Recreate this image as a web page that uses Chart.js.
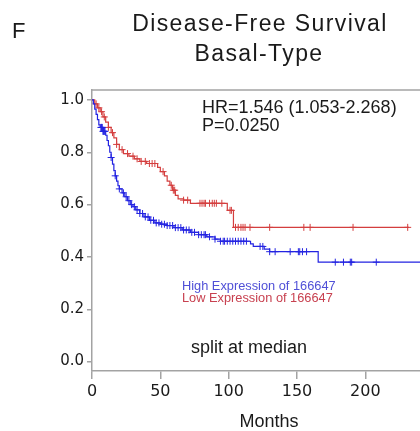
<!DOCTYPE html>
<html>
<head>
<meta charset="utf-8">
<script src="https://cdn.jsdelivr.net/npm/chart.js@4/dist/chart.umd.min.js"></script>
<style>
  html, body { margin: 0; padding: 0; background: #fff; }
  canvas { display: block; }
</style>
</head>
<body>
<canvas id="km" width="420" height="431"></canvas>
<script>
// Kaplan-Meier steps (months, survival)
const highTimes = [0, 1, 2, 3, 4, 5, 6, 8, 10, 11, 12, 13, 14, 15, 16, 17, 18, 19, 20, 22, 24, 26, 28, 30, 32, 35, 38, 42, 46, 50, 55, 60, 66, 72, 78, 84, 90, 94, 116, 118, 126, 130, 165.5];
const highSurv  = [1.0, 0.985, 0.965, 0.945, 0.925, 0.905, 0.895, 0.88, 0.865, 0.845, 0.825, 0.80, 0.78, 0.755, 0.73, 0.71, 0.69, 0.672, 0.66, 0.645, 0.63, 0.615, 0.60, 0.592, 0.58, 0.566, 0.553, 0.54, 0.53, 0.525, 0.52, 0.512, 0.503, 0.494, 0.485, 0.477, 0.468, 0.46, 0.45, 0.44, 0.43, 0.42, 0.38];
const highCensor = [6.5, 7, 7.5, 8, 8.5, 9, 9.5, 14, 17, 20, 23, 25, 27, 29, 31, 33, 35, 37, 39, 41, 43, 45, 47, 49, 51, 53, 55, 57, 59, 61, 63, 65, 67, 69, 71, 73, 75, 78, 80, 82, 83, 86, 90, 94, 96, 97, 99, 101, 103, 105, 107, 109, 111, 113, 123, 125, 130, 134, 145, 151, 152, 154, 157, 178, 184, 189, 190, 208];

const lowTimes = [0, 2, 4, 6, 8, 10, 12, 14, 16, 18, 20, 23, 27, 31, 35, 40, 48, 50, 53, 55, 57, 59, 61, 63, 67, 72, 99, 103.5];
const lowSurv  = [1.0, 0.985, 0.97, 0.955, 0.935, 0.915, 0.895, 0.875, 0.855, 0.83, 0.81, 0.795, 0.785, 0.775, 0.765, 0.757, 0.742, 0.726, 0.71, 0.69, 0.674, 0.655, 0.635, 0.622, 0.617, 0.605, 0.578, 0.513];
const lowCensor = [3, 5, 7, 9, 12, 15, 18, 22, 26, 30, 33, 36, 39, 42, 44, 46, 52, 58, 59.5, 60.5, 67, 70, 79, 80.5, 82, 83, 86, 88, 89.5, 91, 95, 101, 102, 105, 107, 109, 110.5, 112, 115.6, 130, 155, 159.6, 191, 231];

const xTicks = [0, 50, 100, 150, 200];
const yTicks = [0, 0.2, 0.4, 0.6, 0.8, 1.0];

const panelLetter = "F";
const titleLines = ["Disease-Free Survival", "Basal-Type"];
const statLines = ["HR=1.546 (1.053-2.268)", "P=0.0250"];
const legendHigh = "High Expression of 166647";
const legendLow = "Low Expression of 166647";
const noteText = "split at median";
const xTitle = "Months";

const BLUE = "rgb(35,35,225)";
const RED = "rgb(212,62,62)";
const FRAME = "#a3a3a3";

// survival value in force at time t (censor ticks sit on the curve)
function survAt(times, surv, t) {
  let s = surv[0];
  for (let i = 0; i < times.length; i++) {
    if (times[i] <= t) s = surv[i];
  }
  return s;
}

function steps(times, surv, end) {
  const pts = times.map((t, i) => ({ x: t, y: surv[i] }));
  pts.push({ x: end, y: surv[surv.length - 1] });
  return pts;
}

function marks(times, surv, cens) {
  return cens.map(t => ({ x: t, y: survAt(times, surv, t) }));
}

// ---------------- Text + frame ----------------
const annotate = {
  id: "annotate",
  afterDraw(chart) {
    const ctx = chart.ctx;
    const area = chart.chartArea;
    ctx.save();

    ctx.strokeStyle = FRAME;
    ctx.lineWidth = 1.5;
    ctx.beginPath();
    ctx.moveTo(area.left, area.top);
    ctx.lineTo(area.right, area.top);
    ctx.stroke();

    ctx.fillStyle = "#1a1a1a";
    ctx.textBaseline = "alphabetic";

    ctx.font = "22px 'Liberation Sans', Arial, sans-serif";
    ctx.textAlign = "left";
    ctx.fillText(panelLetter, 12, 38);

    ctx.font = "23px 'Liberation Sans', Arial, sans-serif";
    ctx.textAlign = "center";
    if ("letterSpacing" in ctx) ctx.letterSpacing = "1.4px";
    ctx.fillText(titleLines[0], 260, 31);
    ctx.fillText(titleLines[1], 259, 61);
    if ("letterSpacing" in ctx) ctx.letterSpacing = "0px";

    ctx.textAlign = "left";
    ctx.font = "18px 'Liberation Sans', Arial, sans-serif";
    ctx.fillText(statLines[0], 202, 113);
    ctx.fillText(statLines[1], 202, 131);

    ctx.font = "12.8px 'Liberation Sans', Arial, sans-serif";
    ctx.fillStyle = "rgb(80,80,215)";
    ctx.fillText(legendHigh, 182, 289.5);
    ctx.fillStyle = "rgb(200,65,80)";
    ctx.fillText(legendLow, 182, 302);

    ctx.fillStyle = "#1a1a1a";
    ctx.font = "18px 'Liberation Sans', Arial, sans-serif";
    ctx.fillText(noteText, 191, 353);

    ctx.textAlign = "center";
    ctx.fillText(xTitle, 269, 427);
    ctx.restore();
  }
};

new Chart(document.getElementById("km"), {
  type: "scatter",
  data: {
    datasets: [
      { data: steps(highTimes, highSurv, 240), showLine: true, stepped: true, borderColor: BLUE, borderWidth: 1.2, pointRadius: 0 },
      { data: steps(lowTimes, lowSurv, 232), showLine: true, stepped: true, borderColor: RED, borderWidth: 1.2, pointRadius: 0 },
      { data: marks(highTimes, highSurv, highCensor), pointStyle: "cross", pointRadius: 3.5, borderColor: BLUE, borderWidth: 1, showLine: false },
      { data: marks(lowTimes, lowSurv, lowCensor), pointStyle: "cross", pointRadius: 3.5, borderColor: RED, borderWidth: 1, showLine: false }
    ]
  },
  options: {
    responsive: false,
    animation: false,
    devicePixelRatio: 1,
    layout: { autoPadding: false, padding: { top: 90, right: 0, left: 0, bottom: 0 } },
    plugins: { legend: { display: false }, tooltip: { enabled: false } },
    scales: {
      x: {
        type: "linear", min: 0, max: 240,
        afterBuildTicks: s => { s.ticks = xTicks.map(v => ({ value: v })); },
        afterFit: s => { s.height = 60; },
        grid: { drawOnChartArea: false, tickLength: 8, color: FRAME, lineWidth: 1.5 },
        border: { color: FRAME, width: 1.5 },
        ticks: { color: "#1a1a1a", padding: 3, maxRotation: 0, font: { family: "'DejaVu Sans'", size: 16 } }
      },
      y: {
        type: "linear", min: -0.036, max: 1.038,
        afterBuildTicks: s => { s.ticks = yTicks.map(v => ({ value: v })); },
        afterFit: s => { s.width = 92; },
        grid: { drawOnChartArea: false, tickLength: 5, color: FRAME, lineWidth: 1.5 },
        border: { color: FRAME, width: 1.5 },
        ticks: { color: "#1a1a1a", padding: 3, callback: v => v.toFixed(1), font: { family: "'DejaVu Sans'", size: 15 } }
      }
    }
  },
  plugins: [annotate]
});
</script>
</body>
</html>
